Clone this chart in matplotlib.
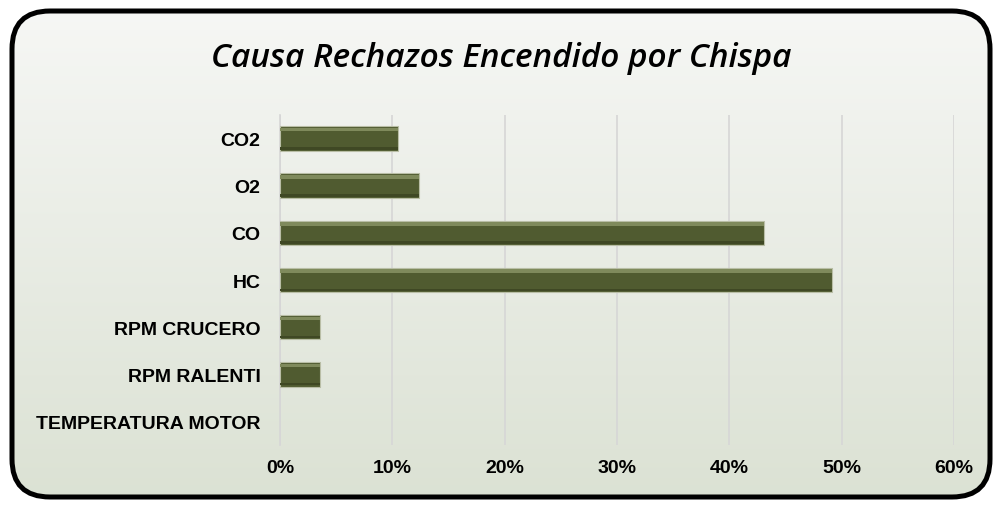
import numpy as np
import matplotlib
matplotlib.use("Agg")
import matplotlib.pyplot as plt
from matplotlib.patches import FancyBboxPatch
from matplotlib.ticker import PercentFormatter

categories = ["CO2", "O2", "CO", "HC", "RPM CRUCERO", "RPM RALENTI", "TEMPERATURA MOTOR"]
values = [10.5, 12.4, 43.1, 49.1, 3.6, 3.6, 0.0]
xticks = [0, 10, 20, 30, 40, 50, 60]
title = "Causa Rechazos Encendido por Chispa"

W, H = 996, 506
fig = plt.figure(figsize=(W / 100, H / 100), dpi=100)
fig.patch.set_facecolor("white")

# background panel with gradient and rounded border
bg = fig.add_axes([0, 0, 1, 1])
bg.set_xlim(0, W)
bg.set_ylim(H, 0)
bg.axis("off")
grad = np.linspace(0, 1, 256)[:, None]
top = np.array([0.965, 0.968, 0.960])
bot = np.array([0.860, 0.885, 0.830])
img = top + (bot - top) * grad[..., None]
img = np.repeat(img, 2, axis=1)
im = bg.imshow(img, extent=[10, 992, 500, 10], aspect="auto", zorder=0)
box = FancyBboxPatch((12, 12), 978, 486, boxstyle="round,pad=0,rounding_size=38",
                     facecolor="none", edgecolor="black", linewidth=3.6, zorder=2)
bg.add_patch(box)
im.set_clip_path(box)

bg.text(501, 58, title, ha="center", va="center", fontsize=24, style="italic",
        fontweight="semibold", family="Open Sans", color="black")

ax = fig.add_axes([280 / W, 1 - 446 / H, (954 - 280) / W, (446 - 116) / H])
ax.set_facecolor("none")
y = np.arange(len(categories))
h = 0.52
lw = [0.8 if v > 0 else 0 for v in values]
ax.barh(y, values, height=h, color="#505b30", edgecolor="#b9bea6", linewidth=lw, zorder=3)
# bevel highlight and shade
ax.barh(y - h * 0.36, values, height=h * 0.14, color="#7f8a5c", linewidth=0, zorder=4)
ax.barh(y + h * 0.40, values, height=h * 0.10, color="#3f4824", linewidth=0, zorder=4)

ax.set_xlim(0, 60)
ax.set_ylim(len(categories) - 0.5, -0.5)
ax.set_xticks(xticks)
ax.xaxis.set_major_formatter(PercentFormatter(decimals=0))
ax.set_yticks(y)
ax.set_yticklabels(categories)
ax.grid(axis="x", color="#d6d6d6", linewidth=1.2, zorder=0)
for s in ["top", "right", "bottom"]:
    ax.spines[s].set_visible(False)
ax.spines["left"].set_color("#d6d6d6")
ax.spines["left"].set_linewidth(1.2)
ax.tick_params(axis="x", length=0, pad=10)
ax.tick_params(axis="y", length=0, pad=14)
for lab in ax.get_xticklabels() + ax.get_yticklabels():
    lab.set_fontfamily("Liberation Sans")
    lab.set_fontweight("bold")
    lab.set_fontsize(14)

fig.savefig("out.png", dpi=100)
